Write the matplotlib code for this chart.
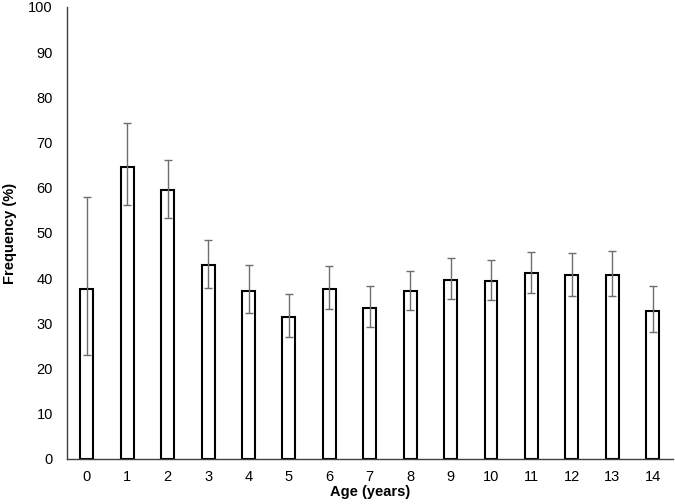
import numpy as np
import matplotlib.pyplot as plt

plt.rcParams['font.family'] = ['Liberation Sans', 'DejaVu Sans']

# Dados
idades = ['0', '1', '2', '3', '4', '5', '6', '7', '8', '9', '10', '11', '12', '13', '14']
freq = [37.6, 64.6, 59.4, 42.8, 37.1, 31.3, 37.5, 33.5, 37.1, 39.6, 39.4, 41.1, 40.6, 40.6, 32.7]
erro_sup = [58.0, 74.4, 66.1, 48.5, 42.8, 36.4, 42.6, 38.2, 41.6, 44.4, 44.1, 45.8, 45.6, 46.0, 38.2]
erro_inf = [23.0, 56.1, 53.4, 37.8, 32.2, 26.9, 33.1, 29.3, 33.0, 35.3, 35.2, 36.7, 36.1, 36.1, 28.0]

freq = np.array(freq)
yerr = [freq - np.array(erro_inf), np.array(erro_sup) - freq]
x = np.arange(len(idades))

fig = plt.figure(figsize=(6.75, 5.04), dpi=100)
ax = fig.add_axes([0.0988, 0.0893, 0.898, 0.897])

ax.bar(x, freq, width=0.32, color='white', edgecolor='black', linewidth=1.5, zorder=2)
ax.errorbar(x, freq, yerr=yerr, fmt='none', ecolor='#6e6e6e', elinewidth=1.0,
            capsize=3, capthick=1.0, zorder=3)

ax.set_xlim(-0.5, 14.5)
ax.set_ylim(0, 100)
ax.set_yticks(range(0, 101, 10))
ax.set_xticks(x)
ax.set_xticklabels(idades)
ax.tick_params(length=0, labelsize=10.5, pad=8)
ax.tick_params(axis='y', pad=10)

for s in ['top', 'right']:
    ax.spines[s].set_visible(False)
for s in ['left', 'bottom']:
    ax.spines[s].set_color('#404040')
    ax.spines[s].set_linewidth(1.0)

ax.set_xlabel('Age (years)', fontweight='bold', fontsize=10.5, labelpad=1)
ax.set_ylabel('Frequency (%)', fontweight='bold', fontsize=10.5, labelpad=8)

fig.savefig('out.png', dpi=100)
